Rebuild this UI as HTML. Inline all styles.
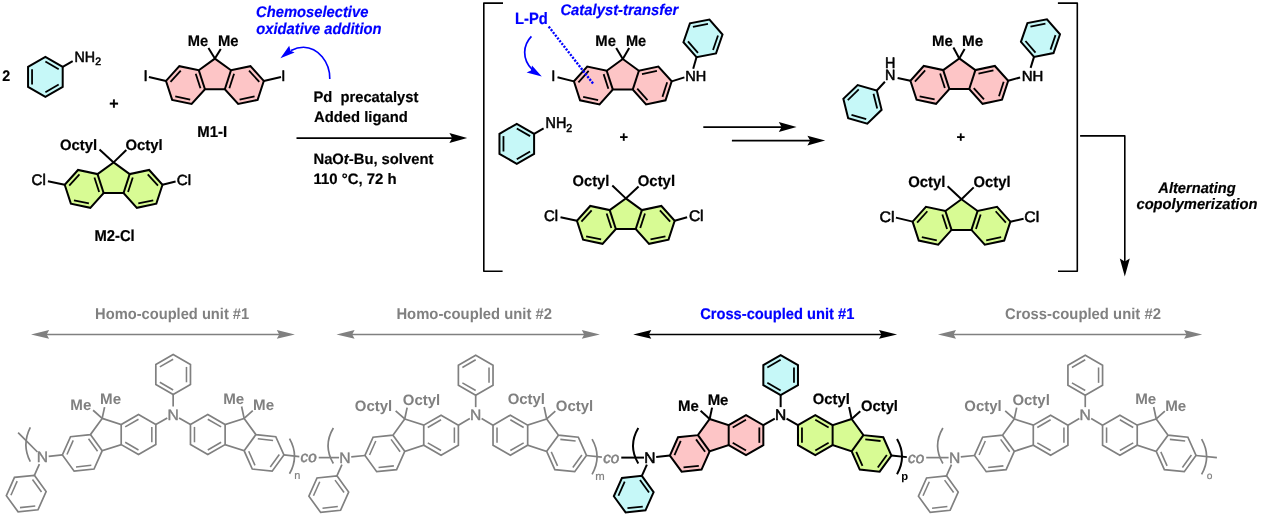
<!DOCTYPE html>
<html><head><meta charset="utf-8"><style>
html,body{margin:0;padding:0;background:#fff;width:1261px;height:517px;overflow:hidden;position:relative}
</style></head><body>
<div style="position:absolute;left:0;top:0;width:1261px;height:517px;will-change:transform"><svg width="1261" height="517" viewBox="0 0 1261 517" style="position:absolute;left:0;top:0">
<g font-family='"Liberation Sans", sans-serif' text-rendering="geometricPrecision">
<text transform="translate(2.35 80.6) scale(0.9485 1.0175)" font-size="15.0" font-weight="bold" font-style="normal" fill="#000" stroke="#000" stroke-width="0.2" stroke-linejoin="round">2</text>
<path d="M62.7 66.9 L62.7 86.9 L45.38 96.9 L28.06 86.9 L28.06 66.9 L45.38 56.9 Z" fill="#c6f8f8" stroke="none" stroke-width="2.0" stroke-linejoin="miter" stroke-miterlimit="4"/>
<path d="M62.7 66.9 L62.7 86.9 L45.38 96.9 L28.06 86.9 L28.06 66.9 L45.38 56.9 Z" fill="none" stroke="#000" stroke-width="2.0" stroke-linejoin="miter" stroke-miterlimit="4"/>
<line x1="45.38" y1="61.52" x2="58.7" y2="69.21" stroke="#000" stroke-width="1.8" stroke-linecap="butt" />
<line x1="58.7" y1="84.59" x2="45.38" y2="92.28" stroke="#000" stroke-width="1.8" stroke-linecap="butt" />
<line x1="32.06" y1="84.59" x2="32.06" y2="69.21" stroke="#000" stroke-width="1.8" stroke-linecap="butt" />
<line x1="62.7" y1="66.9" x2="72.7" y2="61.1" stroke="#000" stroke-width="2.0" stroke-linecap="butt" />
<text transform="translate(74.52 61.7) scale(0.9521 0.9884)" font-size="15.0" font-weight="normal" font-style="normal" fill="#000" stroke="#000" stroke-width="0.55" stroke-linejoin="round">NH<tspan font-size="11" dy="3.6">2</tspan></text>
<text transform="translate(109.33 108.91) scale(1.0713 1.0713)" font-size="15.0" font-weight="bold" font-style="normal" fill="#000" stroke="#000" stroke-width="0.2" stroke-linejoin="round">+</text>
<path d="M214.9 58.6 L231 70.3 L250.46 66.16 L263.78 80.95 L257.63 99.87 L238.17 104.01 L224.85 89.22 L204.95 89.22 L191.63 104.01 L172.17 99.87 L166.02 80.95 L179.34 66.16 L198.8 70.3 Z" fill="#fdc5c6" stroke="none" stroke-width="2.0" stroke-linejoin="miter" stroke-miterlimit="4"/>
<path d="M214.9 58.6 L231 70.3 L250.46 66.16 L263.78 80.95 L257.63 99.87 L238.17 104.01 L224.85 89.22 L204.95 89.22 L191.63 104.01 L172.17 99.87 L166.02 80.95 L179.34 66.16 L198.8 70.3 Z" fill="none" stroke="#000" stroke-width="2.0" stroke-linejoin="miter" stroke-miterlimit="4"/>
<line x1="198.8" y1="70.3" x2="204.95" y2="89.22" stroke="#000" stroke-width="2.0" stroke-linecap="butt" />
<line x1="231" y1="70.3" x2="224.85" y2="89.22" stroke="#000" stroke-width="2.0" stroke-linecap="butt" />
<line x1="195.73" y1="73.71" x2="200.45" y2="88.27" stroke="#000" stroke-width="1.8" stroke-linecap="butt" />
<line x1="190.21" y1="99.64" x2="175.24" y2="96.46" stroke="#000" stroke-width="1.8" stroke-linecap="butt" />
<line x1="170.52" y1="81.9" x2="180.76" y2="70.53" stroke="#000" stroke-width="1.8" stroke-linecap="butt" />
<line x1="234.07" y1="73.71" x2="229.35" y2="88.27" stroke="#000" stroke-width="1.8" stroke-linecap="butt" />
<line x1="239.59" y1="99.64" x2="254.56" y2="96.46" stroke="#000" stroke-width="1.8" stroke-linecap="butt" />
<line x1="259.28" y1="81.9" x2="249.04" y2="70.53" stroke="#000" stroke-width="1.8" stroke-linecap="butt" />
<line x1="166.02" y1="80.95" x2="148.9" y2="77.1" stroke="#000" stroke-width="2.0" stroke-linecap="butt" />
<line x1="263.78" y1="80.95" x2="281" y2="77.1" stroke="#000" stroke-width="2.0" stroke-linecap="butt" />
<text transform="translate(143.42 81.2) scale(1.0000 1.0271)" font-size="15.0" font-weight="normal" font-style="normal" fill="#000" stroke="#000" stroke-width="0.55" stroke-linejoin="round">I</text>
<text transform="translate(281.32 81.2) scale(1.0000 1.0078)" font-size="15.0" font-weight="normal" font-style="normal" fill="#000" stroke="#000" stroke-width="0.55" stroke-linejoin="round">I</text>
<line x1="214.9" y1="58.6" x2="208.4" y2="48" stroke="#000" stroke-width="2.0" stroke-linecap="butt" />
<line x1="214.9" y1="58.6" x2="220.8" y2="49" stroke="#000" stroke-width="2.0" stroke-linecap="butt" />
<text transform="translate(187.78 45.8) scale(0.9782 1.0271)" font-size="15.0" font-weight="bold" font-style="normal" fill="#000" stroke="#000" stroke-width="0.2" stroke-linejoin="round">Me</text>
<text transform="translate(217.97 45.8) scale(0.9886 1.0271)" font-size="15.0" font-weight="bold" font-style="normal" fill="#000" stroke="#000" stroke-width="0.2" stroke-linejoin="round">Me</text>
<text transform="translate(197.36 136.6) scale(0.9957 1.0514)" font-size="15.0" font-weight="bold" font-style="normal" fill="#000" stroke="#000" stroke-width="0.2" stroke-linejoin="round">M1-I</text>
<path d="M113.6 162.4 L129.7 174.1 L149.16 169.96 L162.48 184.75 L156.33 203.67 L136.87 207.81 L123.55 193.02 L103.65 193.02 L90.33 207.81 L70.87 203.67 L64.72 184.75 L78.04 169.96 L97.5 174.1 Z" fill="#d8fb94" stroke="none" stroke-width="2.0" stroke-linejoin="miter" stroke-miterlimit="4"/>
<path d="M113.6 162.4 L129.7 174.1 L149.16 169.96 L162.48 184.75 L156.33 203.67 L136.87 207.81 L123.55 193.02 L103.65 193.02 L90.33 207.81 L70.87 203.67 L64.72 184.75 L78.04 169.96 L97.5 174.1 Z" fill="none" stroke="#000" stroke-width="2.0" stroke-linejoin="miter" stroke-miterlimit="4"/>
<line x1="97.5" y1="174.1" x2="103.65" y2="193.02" stroke="#000" stroke-width="2.0" stroke-linecap="butt" />
<line x1="129.7" y1="174.1" x2="123.55" y2="193.02" stroke="#000" stroke-width="2.0" stroke-linecap="butt" />
<line x1="94.43" y1="177.51" x2="99.15" y2="192.07" stroke="#000" stroke-width="1.8" stroke-linecap="butt" />
<line x1="88.91" y1="203.44" x2="73.94" y2="200.26" stroke="#000" stroke-width="1.8" stroke-linecap="butt" />
<line x1="69.22" y1="185.7" x2="79.46" y2="174.33" stroke="#000" stroke-width="1.8" stroke-linecap="butt" />
<line x1="132.77" y1="177.51" x2="128.05" y2="192.07" stroke="#000" stroke-width="1.8" stroke-linecap="butt" />
<line x1="138.29" y1="203.44" x2="153.26" y2="200.26" stroke="#000" stroke-width="1.8" stroke-linecap="butt" />
<line x1="157.98" y1="185.7" x2="147.74" y2="174.33" stroke="#000" stroke-width="1.8" stroke-linecap="butt" />
<line x1="64.72" y1="184.75" x2="47.9" y2="181.3" stroke="#000" stroke-width="2.0" stroke-linecap="butt" />
<line x1="162.48" y1="184.75" x2="175.6" y2="181.5" stroke="#000" stroke-width="2.0" stroke-linecap="butt" />
<text transform="translate(31.59 185.45) scale(1.0063 1.0320)" font-size="15.0" font-weight="normal" font-style="normal" fill="#000" stroke="#000" stroke-width="0.55" stroke-linejoin="round">Cl</text>
<text transform="translate(176.79 185) scale(1.0141 0.9787)" font-size="15.0" font-weight="normal" font-style="normal" fill="#000" stroke="#000" stroke-width="0.55" stroke-linejoin="round">Cl</text>
<line x1="113.6" y1="162.4" x2="99.5" y2="149.4" stroke="#000" stroke-width="2.0" stroke-linecap="butt" />
<line x1="113.6" y1="162.4" x2="126.3" y2="150" stroke="#000" stroke-width="2.0" stroke-linecap="butt" />
<text transform="translate(60.03 149.9) scale(0.9891 0.9981)" font-size="15.0" font-weight="bold" font-style="normal" fill="#000" stroke="#000" stroke-width="0.2" stroke-linejoin="round">Octyl</text>
<text transform="translate(125.43 149.9) scale(0.9919 0.9981)" font-size="15.0" font-weight="bold" font-style="normal" fill="#000" stroke="#000" stroke-width="0.2" stroke-linejoin="round">Octyl</text>
<text transform="translate(94.47 240.6) scale(0.9851 1.0514)" font-size="15.0" font-weight="bold" font-style="normal" fill="#000" stroke="#000" stroke-width="0.2" stroke-linejoin="round">M2-Cl</text>
<text transform="translate(256.01 16.6) scale(0.9838 1.0271)" font-size="15.0" font-weight="bold" font-style="italic" fill="#0000ff" stroke="#0000ff" stroke-width="0.2" stroke-linejoin="round">Chemoselective</text>
<text transform="translate(256.33 34) scale(0.9813 1.0562)" font-size="15.0" font-weight="bold" font-style="italic" fill="#0000ff" stroke="#0000ff" stroke-width="0.2" stroke-linejoin="round">oxidative addition</text>
<path d="M329.8 79 C330 62 318 47.5 303.5 47.3 C299 47.3 295 48.5 291 50.5" fill="none" stroke="#0000ff" stroke-width="1.6"/>
<path d="M280.4 58.3 L289.2 45.8 L290.5 50.8 L294.6 52.4 Z" fill="#0000ff" stroke="none" stroke-width="2.0" stroke-linejoin="miter" stroke-miterlimit="4"/>
<text transform="translate(313.47 101.7) scale(0.9823 1.0078)" font-size="15.0" font-weight="bold" font-style="normal" fill="#000" stroke="#000" stroke-width="0.2" stroke-linejoin="round">Pd&#160; precatalyst</text>
<text transform="translate(313.98 122.4) scale(0.9871 1.0078)" font-size="15.0" font-weight="bold" font-style="normal" fill="#000" stroke="#000" stroke-width="0.2" stroke-linejoin="round">Added ligand</text>
<line x1="296.5" y1="138" x2="452.7" y2="138" stroke="#000" stroke-width="1.75" stroke-linecap="butt" />
<path d="M467.2 138 L449.4 142.9 L452.2 138 L449.4 133.1 Z" fill="#000" stroke="none" stroke-width="2.0" stroke-linejoin="miter" stroke-miterlimit="4"/>
<text transform="translate(313.47 163.6) scale(0.9853 0.9981)" font-size="15.0" font-weight="bold" font-style="normal" fill="#000" stroke="#000" stroke-width="0.2" stroke-linejoin="round">NaO<tspan font-style="italic">t</tspan>-Bu, solvent</text>
<text transform="translate(313.54 184.4) scale(0.9952 1.0078)" font-size="15.0" font-weight="bold" font-style="normal" fill="#000" stroke="#000" stroke-width="0.2" stroke-linejoin="round">110 °C, 72 h</text>
<path d="M503 3.1 L483.8 3.1 L483.8 271.3 L502.6 271.3" fill="none" stroke="#000" stroke-width="1.6" stroke-linejoin="round" stroke-miterlimit="4"/>
<path d="M1057.9 3.1 L1077.3 3.1 L1077.3 271.3 L1058 271.3" fill="none" stroke="#000" stroke-width="1.6" stroke-linejoin="round" stroke-miterlimit="4"/>
<text transform="translate(515.07 24.4) scale(0.9822 1.0950)" font-size="15.0" font-weight="bold" font-style="normal" fill="#0000ff" stroke="#0000ff" stroke-width="0.2" stroke-linejoin="round">L-Pd</text>
<text transform="translate(560.4 15) scale(0.9881 1.0271)" font-size="15.0" font-weight="bold" font-style="italic" fill="#0000ff" stroke="#0000ff" stroke-width="0.2" stroke-linejoin="round">Catalyst-transfer</text>
<path d="M622.8 59 L638.9 70.7 L658.36 66.56 L671.68 81.35 L665.53 100.27 L646.07 104.41 L632.75 89.62 L612.85 89.62 L599.53 104.41 L580.07 100.27 L573.92 81.35 L587.24 66.56 L606.7 70.7 Z" fill="#fdc5c6" stroke="none" stroke-width="2.0" stroke-linejoin="miter" stroke-miterlimit="4"/>
<path d="M622.8 59 L638.9 70.7 L658.36 66.56 L671.68 81.35 L665.53 100.27 L646.07 104.41 L632.75 89.62 L612.85 89.62 L599.53 104.41 L580.07 100.27 L573.92 81.35 L587.24 66.56 L606.7 70.7 Z" fill="none" stroke="#000" stroke-width="2.0" stroke-linejoin="miter" stroke-miterlimit="4"/>
<line x1="606.7" y1="70.7" x2="612.85" y2="89.62" stroke="#000" stroke-width="2.0" stroke-linecap="butt" />
<line x1="638.9" y1="70.7" x2="632.75" y2="89.62" stroke="#000" stroke-width="2.0" stroke-linecap="butt" />
<line x1="603.63" y1="74.11" x2="608.35" y2="88.67" stroke="#000" stroke-width="1.8" stroke-linecap="butt" />
<line x1="598.11" y1="100.04" x2="583.14" y2="96.86" stroke="#000" stroke-width="1.8" stroke-linecap="butt" />
<line x1="578.42" y1="82.3" x2="588.66" y2="70.93" stroke="#000" stroke-width="1.8" stroke-linecap="butt" />
<line x1="637.25" y1="88.67" x2="647.49" y2="100.04" stroke="#000" stroke-width="1.8" stroke-linecap="butt" />
<line x1="662.46" y1="96.86" x2="667.18" y2="82.3" stroke="#000" stroke-width="1.8" stroke-linecap="butt" />
<line x1="656.94" y1="70.93" x2="641.97" y2="74.11" stroke="#000" stroke-width="1.8" stroke-linecap="butt" />
<line x1="573.92" y1="81.35" x2="557.5" y2="77.3" stroke="#000" stroke-width="2.0" stroke-linecap="butt" />
<text transform="translate(551.27 80.85) scale(1.0000 1.0126)" font-size="15.0" font-weight="normal" font-style="normal" fill="#000" stroke="#000" stroke-width="0.55" stroke-linejoin="round">I</text>
<line x1="622.8" y1="59" x2="616.2" y2="48" stroke="#000" stroke-width="2.0" stroke-linecap="butt" />
<line x1="622.8" y1="59" x2="629.2" y2="48" stroke="#000" stroke-width="2.0" stroke-linecap="butt" />
<text transform="translate(595.37 45.7) scale(0.9886 1.0271)" font-size="15.0" font-weight="bold" font-style="normal" fill="#000" stroke="#000" stroke-width="0.2" stroke-linejoin="round">Me</text>
<text transform="translate(625.88 45.7) scale(0.9731 1.0271)" font-size="15.0" font-weight="bold" font-style="normal" fill="#000" stroke="#000" stroke-width="0.2" stroke-linejoin="round">Me</text>
<line x1="671.68" y1="81.35" x2="684.4" y2="77.4" stroke="#000" stroke-width="2.0" stroke-linecap="butt" />
<text transform="translate(685.25 80.9) scale(0.9689 0.9787)" font-size="15.0" font-weight="normal" font-style="normal" fill="#000" stroke="#000" stroke-width="0.55" stroke-linejoin="round">NH</text>
<line x1="693.2" y1="68.7" x2="696.5" y2="57.2" stroke="#000" stroke-width="2.0" stroke-linecap="butt" />
<path d="M696.5 57.2 L683.44 42.18 L689.92 23.37 L709.46 19.57 L722.51 34.59 L716.03 53.4 Z" fill="#c6f8f8" stroke="none" stroke-width="2.0" stroke-linejoin="miter" stroke-miterlimit="4"/>
<path d="M696.5 57.2 L683.44 42.18 L689.92 23.37 L709.46 19.57 L722.51 34.59 L716.03 53.4 Z" fill="none" stroke="#000" stroke-width="2.0" stroke-linejoin="miter" stroke-miterlimit="4"/>
<line x1="698" y1="52.85" x2="687.96" y2="41.3" stroke="#000" stroke-width="1.8" stroke-linecap="butt" />
<line x1="692.94" y1="26.83" x2="707.96" y2="23.91" stroke="#000" stroke-width="1.8" stroke-linecap="butt" />
<line x1="718" y1="35.46" x2="713.02" y2="49.93" stroke="#000" stroke-width="1.8" stroke-linecap="butt" />
<line x1="548.7" y1="26.6" x2="593.4" y2="84" stroke="#0000ff" stroke-width="2.4" stroke-dasharray="2.1 1.4"/>
<path d="M531.4 36.3 C523 45 521.5 59 532.5 70" fill="none" stroke="#0000ff" stroke-width="1.7"/>
<path d="M541.8 76.6 L526.6 72.6 L531 70.6 L532 65.6 Z" fill="#0000ff" stroke="none" stroke-width="2.0" stroke-linejoin="miter" stroke-miterlimit="4"/>
<path d="M534.1 133.8 L534.1 153.8 L516.78 163.8 L499.46 153.8 L499.46 133.8 L516.78 123.8 Z" fill="#c6f8f8" stroke="none" stroke-width="2.0" stroke-linejoin="miter" stroke-miterlimit="4"/>
<path d="M534.1 133.8 L534.1 153.8 L516.78 163.8 L499.46 153.8 L499.46 133.8 L516.78 123.8 Z" fill="none" stroke="#000" stroke-width="2.0" stroke-linejoin="miter" stroke-miterlimit="4"/>
<line x1="516.78" y1="128.42" x2="530.1" y2="136.11" stroke="#000" stroke-width="1.8" stroke-linecap="butt" />
<line x1="530.1" y1="151.49" x2="516.78" y2="159.18" stroke="#000" stroke-width="1.8" stroke-linecap="butt" />
<line x1="503.46" y1="151.49" x2="503.46" y2="136.11" stroke="#000" stroke-width="1.8" stroke-linecap="butt" />
<line x1="534.1" y1="133.8" x2="543.6" y2="128.3" stroke="#000" stroke-width="2.0" stroke-linecap="butt" />
<text transform="translate(545.51 128.3) scale(0.9596 1.0465)" font-size="15.0" font-weight="normal" font-style="normal" fill="#000" stroke="#000" stroke-width="0.55" stroke-linejoin="round">NH<tspan font-size="11" dy="3.6">2</tspan></text>
<text transform="translate(619.39 142.28) scale(0.9775 0.9775)" font-size="15.0" font-weight="bold" font-style="normal" fill="#000" stroke="#000" stroke-width="0.2" stroke-linejoin="round">+</text>
<path d="M625.8 198.4 L641.9 210.1 L661.36 205.96 L674.68 220.75 L668.53 239.67 L649.07 243.81 L635.75 229.02 L615.85 229.02 L602.53 243.81 L583.07 239.67 L576.92 220.75 L590.24 205.96 L609.7 210.1 Z" fill="#d8fb94" stroke="none" stroke-width="2.0" stroke-linejoin="miter" stroke-miterlimit="4"/>
<path d="M625.8 198.4 L641.9 210.1 L661.36 205.96 L674.68 220.75 L668.53 239.67 L649.07 243.81 L635.75 229.02 L615.85 229.02 L602.53 243.81 L583.07 239.67 L576.92 220.75 L590.24 205.96 L609.7 210.1 Z" fill="none" stroke="#000" stroke-width="2.0" stroke-linejoin="miter" stroke-miterlimit="4"/>
<line x1="609.7" y1="210.1" x2="615.85" y2="229.02" stroke="#000" stroke-width="2.0" stroke-linecap="butt" />
<line x1="641.9" y1="210.1" x2="635.75" y2="229.02" stroke="#000" stroke-width="2.0" stroke-linecap="butt" />
<line x1="606.63" y1="213.51" x2="611.35" y2="228.07" stroke="#000" stroke-width="1.8" stroke-linecap="butt" />
<line x1="601.11" y1="239.44" x2="586.14" y2="236.26" stroke="#000" stroke-width="1.8" stroke-linecap="butt" />
<line x1="581.42" y1="221.7" x2="591.66" y2="210.33" stroke="#000" stroke-width="1.8" stroke-linecap="butt" />
<line x1="644.97" y1="213.51" x2="640.25" y2="228.07" stroke="#000" stroke-width="1.8" stroke-linecap="butt" />
<line x1="650.49" y1="239.44" x2="665.46" y2="236.26" stroke="#000" stroke-width="1.8" stroke-linecap="butt" />
<line x1="670.18" y1="221.7" x2="659.94" y2="210.33" stroke="#000" stroke-width="1.8" stroke-linecap="butt" />
<line x1="576.92" y1="220.75" x2="560.5" y2="217.3" stroke="#000" stroke-width="2.0" stroke-linecap="butt" />
<line x1="674.68" y1="220.75" x2="687.1" y2="217.3" stroke="#000" stroke-width="2.0" stroke-linecap="butt" />
<text transform="translate(544 220.7) scale(0.9908 1.0271)" font-size="15.0" font-weight="normal" font-style="normal" fill="#000" stroke="#000" stroke-width="0.55" stroke-linejoin="round">Cl</text>
<text transform="translate(688.88 220.7) scale(1.0373 1.0271)" font-size="15.0" font-weight="normal" font-style="normal" fill="#000" stroke="#000" stroke-width="0.55" stroke-linejoin="round">Cl</text>
<line x1="625.8" y1="198.4" x2="612.3" y2="185.5" stroke="#000" stroke-width="2.0" stroke-linecap="butt" />
<line x1="625.8" y1="198.4" x2="638.6" y2="186.4" stroke="#000" stroke-width="2.0" stroke-linecap="butt" />
<text transform="translate(572.53 185.7) scale(0.9836 1.0175)" font-size="15.0" font-weight="bold" font-style="normal" fill="#000" stroke="#000" stroke-width="0.2" stroke-linejoin="round">Octyl</text>
<text transform="translate(637.73 185.7) scale(0.9947 1.0175)" font-size="15.0" font-weight="bold" font-style="normal" fill="#000" stroke="#000" stroke-width="0.2" stroke-linejoin="round">Octyl</text>
<line x1="703.3" y1="127" x2="782.1" y2="127" stroke="#000" stroke-width="1.75" stroke-linecap="butt" />
<path d="M796.6 127 L778.8 131.9 L781.6 127 L778.8 122.1 Z" fill="#000" stroke="none" stroke-width="2.0" stroke-linejoin="miter" stroke-miterlimit="4"/>
<line x1="731.9" y1="140.6" x2="810.7" y2="140.6" stroke="#000" stroke-width="1.75" stroke-linecap="butt" />
<path d="M825.2 140.6 L807.4 145.5 L810.2 140.6 L807.4 135.7 Z" fill="#000" stroke="none" stroke-width="2.0" stroke-linejoin="miter" stroke-miterlimit="4"/>
<path d="M959.3 58.4 L975.4 70.1 L994.86 65.96 L1008.18 80.75 L1002.03 99.67 L982.57 103.81 L969.25 89.02 L949.35 89.02 L936.03 103.81 L916.57 99.67 L910.42 80.75 L923.74 65.96 L943.2 70.1 Z" fill="#fdc5c6" stroke="none" stroke-width="2.0" stroke-linejoin="miter" stroke-miterlimit="4"/>
<path d="M959.3 58.4 L975.4 70.1 L994.86 65.96 L1008.18 80.75 L1002.03 99.67 L982.57 103.81 L969.25 89.02 L949.35 89.02 L936.03 103.81 L916.57 99.67 L910.42 80.75 L923.74 65.96 L943.2 70.1 Z" fill="none" stroke="#000" stroke-width="2.0" stroke-linejoin="miter" stroke-miterlimit="4"/>
<line x1="943.2" y1="70.1" x2="949.35" y2="89.02" stroke="#000" stroke-width="2.0" stroke-linecap="butt" />
<line x1="975.4" y1="70.1" x2="969.25" y2="89.02" stroke="#000" stroke-width="2.0" stroke-linecap="butt" />
<line x1="940.13" y1="73.51" x2="944.85" y2="88.07" stroke="#000" stroke-width="1.8" stroke-linecap="butt" />
<line x1="934.61" y1="99.44" x2="919.64" y2="96.26" stroke="#000" stroke-width="1.8" stroke-linecap="butt" />
<line x1="914.92" y1="81.7" x2="925.16" y2="70.33" stroke="#000" stroke-width="1.8" stroke-linecap="butt" />
<line x1="973.75" y1="88.07" x2="983.99" y2="99.44" stroke="#000" stroke-width="1.8" stroke-linecap="butt" />
<line x1="998.96" y1="96.26" x2="1003.68" y2="81.7" stroke="#000" stroke-width="1.8" stroke-linecap="butt" />
<line x1="993.44" y1="70.33" x2="978.47" y2="73.51" stroke="#000" stroke-width="1.8" stroke-linecap="butt" />
<line x1="959.3" y1="58.4" x2="953.4" y2="47.6" stroke="#000" stroke-width="2.0" stroke-linecap="butt" />
<line x1="959.3" y1="58.4" x2="964.6" y2="49.1" stroke="#000" stroke-width="2.0" stroke-linecap="butt" />
<text transform="translate(932.06 45.8) scale(0.9990 1.0175)" font-size="15.0" font-weight="bold" font-style="normal" fill="#000" stroke="#000" stroke-width="0.2" stroke-linejoin="round">Me</text>
<text transform="translate(962.04 45.8) scale(1.0197 1.0175)" font-size="15.0" font-weight="bold" font-style="normal" fill="#000" stroke="#000" stroke-width="0.2" stroke-linejoin="round">Me</text>
<line x1="910.42" y1="80.75" x2="897.6" y2="77.9" stroke="#000" stroke-width="2.0" stroke-linecap="butt" />
<text transform="translate(884.91 80.4) scale(0.9580 0.9884)" font-size="15.0" font-weight="normal" font-style="normal" fill="#000" stroke="#000" stroke-width="0.55" stroke-linejoin="round">N</text>
<text transform="translate(884.91 68.3) scale(0.9580 1.0078)" font-size="15.0" font-weight="normal" font-style="normal" fill="#000" stroke="#000" stroke-width="0.55" stroke-linejoin="round">H</text>
<line x1="884.9" y1="81.7" x2="876.8" y2="90.5" stroke="#000" stroke-width="2.0" stroke-linecap="butt" />
<path d="M876.8 90.5 L881.61 109.81 L867.3 123.63 L848.17 118.15 L843.36 98.84 L857.67 85.01 Z" fill="#c6f8f8" stroke="none" stroke-width="2.0" stroke-linejoin="miter" stroke-miterlimit="4"/>
<path d="M876.8 90.5 L881.61 109.81 L867.3 123.63 L848.17 118.15 L843.36 98.84 L857.67 85.01 Z" fill="none" stroke="#000" stroke-width="2.0" stroke-linejoin="miter" stroke-miterlimit="4"/>
<line x1="873.49" y1="93.69" x2="877.2" y2="108.54" stroke="#000" stroke-width="1.8" stroke-linecap="butt" />
<line x1="866.19" y1="119.17" x2="851.48" y2="114.95" stroke="#000" stroke-width="1.8" stroke-linecap="butt" />
<line x1="847.77" y1="100.11" x2="858.78" y2="89.47" stroke="#000" stroke-width="1.8" stroke-linecap="butt" />
<line x1="1008.18" y1="80.75" x2="1020.1" y2="77.5" stroke="#000" stroke-width="2.0" stroke-linecap="butt" />
<text transform="translate(1021.67 80.6) scale(0.9967 0.9787)" font-size="15.0" font-weight="normal" font-style="normal" fill="#000" stroke="#000" stroke-width="0.55" stroke-linejoin="round">NH</text>
<line x1="1030.6" y1="67.9" x2="1034" y2="56.9" stroke="#000" stroke-width="2.0" stroke-linecap="butt" />
<path d="M1034 56.9 L1020.94 41.88 L1027.42 23.07 L1046.96 19.27 L1060.01 34.29 L1053.53 53.1 Z" fill="#c6f8f8" stroke="none" stroke-width="2.0" stroke-linejoin="miter" stroke-miterlimit="4"/>
<path d="M1034 56.9 L1020.94 41.88 L1027.42 23.07 L1046.96 19.27 L1060.01 34.29 L1053.53 53.1 Z" fill="none" stroke="#000" stroke-width="2.0" stroke-linejoin="miter" stroke-miterlimit="4"/>
<line x1="1035.5" y1="52.55" x2="1025.46" y2="41" stroke="#000" stroke-width="1.8" stroke-linecap="butt" />
<line x1="1030.44" y1="26.53" x2="1045.46" y2="23.61" stroke="#000" stroke-width="1.8" stroke-linecap="butt" />
<line x1="1055.5" y1="35.16" x2="1050.52" y2="49.63" stroke="#000" stroke-width="1.8" stroke-linecap="butt" />
<text transform="translate(956.39 142.48) scale(0.9775 0.9775)" font-size="15.0" font-weight="bold" font-style="normal" fill="#000" stroke="#000" stroke-width="0.2" stroke-linejoin="round">+</text>
<path d="M961.5 199.3 L977.6 211 L997.06 206.86 L1010.38 221.65 L1004.23 240.57 L984.77 244.71 L971.45 229.92 L951.55 229.92 L938.23 244.71 L918.77 240.57 L912.62 221.65 L925.94 206.86 L945.4 211 Z" fill="#d8fb94" stroke="none" stroke-width="2.0" stroke-linejoin="miter" stroke-miterlimit="4"/>
<path d="M961.5 199.3 L977.6 211 L997.06 206.86 L1010.38 221.65 L1004.23 240.57 L984.77 244.71 L971.45 229.92 L951.55 229.92 L938.23 244.71 L918.77 240.57 L912.62 221.65 L925.94 206.86 L945.4 211 Z" fill="none" stroke="#000" stroke-width="2.0" stroke-linejoin="miter" stroke-miterlimit="4"/>
<line x1="945.4" y1="211" x2="951.55" y2="229.92" stroke="#000" stroke-width="2.0" stroke-linecap="butt" />
<line x1="977.6" y1="211" x2="971.45" y2="229.92" stroke="#000" stroke-width="2.0" stroke-linecap="butt" />
<line x1="942.33" y1="214.41" x2="947.05" y2="228.97" stroke="#000" stroke-width="1.8" stroke-linecap="butt" />
<line x1="936.81" y1="240.34" x2="921.84" y2="237.16" stroke="#000" stroke-width="1.8" stroke-linecap="butt" />
<line x1="917.12" y1="222.6" x2="927.36" y2="211.23" stroke="#000" stroke-width="1.8" stroke-linecap="butt" />
<line x1="980.67" y1="214.41" x2="975.95" y2="228.97" stroke="#000" stroke-width="1.8" stroke-linecap="butt" />
<line x1="986.19" y1="240.34" x2="1001.16" y2="237.16" stroke="#000" stroke-width="1.8" stroke-linecap="butt" />
<line x1="1005.88" y1="222.6" x2="995.64" y2="211.23" stroke="#000" stroke-width="1.8" stroke-linecap="butt" />
<line x1="912.62" y1="221.65" x2="895.9" y2="217.6" stroke="#000" stroke-width="2.0" stroke-linecap="butt" />
<line x1="1010.38" y1="221.65" x2="1023.6" y2="218.8" stroke="#000" stroke-width="2.0" stroke-linecap="butt" />
<text transform="translate(879.47 222) scale(1.0605 1.0078)" font-size="15.0" font-weight="normal" font-style="normal" fill="#000" stroke="#000" stroke-width="0.55" stroke-linejoin="round">Cl</text>
<text transform="translate(1024.37 222) scale(1.0528 1.0078)" font-size="15.0" font-weight="normal" font-style="normal" fill="#000" stroke="#000" stroke-width="0.55" stroke-linejoin="round">Cl</text>
<line x1="961.5" y1="199.3" x2="947.6" y2="186.3" stroke="#000" stroke-width="2.0" stroke-linecap="butt" />
<line x1="961.5" y1="199.3" x2="973.7" y2="187.4" stroke="#000" stroke-width="2.0" stroke-linecap="butt" />
<text transform="translate(908.13 187) scale(0.9947 1.0271)" font-size="15.0" font-weight="bold" font-style="normal" fill="#000" stroke="#000" stroke-width="0.2" stroke-linejoin="round">Octyl</text>
<text transform="translate(973.53 187) scale(0.9864 1.0271)" font-size="15.0" font-weight="bold" font-style="normal" fill="#000" stroke="#000" stroke-width="0.2" stroke-linejoin="round">Octyl</text>
<path d="M1080.1 135.9 L1124.8 135.9 L1124.8 262" fill="none" stroke="#000" stroke-width="1.6" stroke-linejoin="round" stroke-miterlimit="4"/>
<path d="M1124.8 276.6 L1119.8 258.6 L1124.8 261.4 L1129.8 258.6 Z" fill="#000" stroke="none" stroke-width="2.0" stroke-linejoin="miter" stroke-miterlimit="4"/>
<text transform="translate(1158.34 192.7) scale(0.9763 1.0078)" font-size="15.0" font-weight="bold" font-style="italic" fill="#000" stroke="#000" stroke-width="0.2" stroke-linejoin="round">Alternating</text>
<text transform="translate(1136.45 209.3) scale(0.9806 1.0078)" font-size="15.0" font-weight="bold" font-style="italic" fill="#000" stroke="#000" stroke-width="0.2" stroke-linejoin="round">copolymerization</text>
<line x1="46" y1="334.4" x2="279.9" y2="334.4" stroke="#808080" stroke-width="1.5" stroke-linecap="butt" />
<path d="M31 334.4 L49.1 330 L46.7 334.4 L49.1 338.8 Z" fill="#808080" stroke="none" stroke-width="2.0" stroke-linejoin="miter" stroke-miterlimit="4"/>
<path d="M294.9 334.4 L276.8 338.8 L279.2 334.4 L276.8 330 Z" fill="#808080" stroke="none" stroke-width="2.0" stroke-linejoin="miter" stroke-miterlimit="4"/>
<line x1="351.5" y1="334.4" x2="584.9" y2="334.4" stroke="#808080" stroke-width="1.5" stroke-linecap="butt" />
<path d="M336.5 334.4 L354.6 330 L352.2 334.4 L354.6 338.8 Z" fill="#808080" stroke="none" stroke-width="2.0" stroke-linejoin="miter" stroke-miterlimit="4"/>
<path d="M599.9 334.4 L581.8 338.8 L584.2 334.4 L581.8 330 Z" fill="#808080" stroke="none" stroke-width="2.0" stroke-linejoin="miter" stroke-miterlimit="4"/>
<line x1="648.2" y1="334.4" x2="882.1" y2="334.4" stroke="#000" stroke-width="1.5" stroke-linecap="butt" />
<path d="M633.2 334.4 L651.3 330 L648.9 334.4 L651.3 338.8 Z" fill="#000" stroke="none" stroke-width="2.0" stroke-linejoin="miter" stroke-miterlimit="4"/>
<path d="M897.1 334.4 L879 338.8 L881.4 334.4 L879 330 Z" fill="#000" stroke="none" stroke-width="2.0" stroke-linejoin="miter" stroke-miterlimit="4"/>
<line x1="952.9" y1="334.4" x2="1187.2" y2="334.4" stroke="#808080" stroke-width="1.5" stroke-linecap="butt" />
<path d="M937.9 334.4 L956 330 L953.6 334.4 L956 338.8 Z" fill="#808080" stroke="none" stroke-width="2.0" stroke-linejoin="miter" stroke-miterlimit="4"/>
<path d="M1202.2 334.4 L1184.1 338.8 L1186.5 334.4 L1184.1 330 Z" fill="#808080" stroke="none" stroke-width="2.0" stroke-linejoin="miter" stroke-miterlimit="4"/>
<text transform="translate(95.12 318.5) scale(0.9782 1.0368)" font-size="15.0" font-weight="bold" font-style="normal" fill="#808080">Homo-coupled unit #1</text>
<text transform="translate(396.41 318.5) scale(0.9879 1.0368)" font-size="15.0" font-weight="bold" font-style="normal" fill="#808080">Homo-coupled unit #2</text>
<text transform="translate(700.13 318.5) scale(0.9791 1.0368)" font-size="15.0" font-weight="bold" font-style="normal" fill="#0000ff" stroke="#0000ff" stroke-width="0.2" stroke-linejoin="round">Cross-coupled unit #1</text>
<text transform="translate(1004.95 318.5) scale(0.9902 1.0368)" font-size="15.0" font-weight="bold" font-style="normal" fill="#808080">Cross-coupled unit #2</text>
<line x1="48.68" y1="456.4" x2="62.39" y2="454.96" stroke="#808080" stroke-width="1.7" stroke-linecap="butt" />
<line x1="39.38" y1="464.07" x2="34.37" y2="475.32" stroke="#808080" stroke-width="1.7" stroke-linecap="butt" />
<path d="M34.37 475.32 L46.12 491.5 L37.99 509.77 L18.1 511.86 L6.34 495.68 L14.47 477.41 Z" fill="none" stroke="#808080" stroke-width="1.7" stroke-linejoin="miter" stroke-miterlimit="4"/>
<line x1="32.49" y1="479.54" x2="41.53" y2="491.98" stroke="#808080" stroke-width="1.55" stroke-linecap="butt" />
<line x1="35.27" y1="506.04" x2="19.97" y2="507.64" stroke="#808080" stroke-width="1.55" stroke-linecap="butt" />
<line x1="10.93" y1="495.2" x2="17.19" y2="481.15" stroke="#808080" stroke-width="1.55" stroke-linecap="butt" />
<path d="M102.17 418.42 L121.19 424.6 L138.51 414.6 L155.83 424.6 L155.83 444.6 L138.51 454.6 L121.19 444.6 L102.17 450.78 L94.04 469.05 L74.15 471.14 L62.39 454.96 L70.53 436.69 L90.42 434.6 Z" fill="none" stroke="#808080" stroke-width="1.7" stroke-linejoin="miter" stroke-miterlimit="4"/>
<line x1="90.42" y1="434.6" x2="102.17" y2="450.78" stroke="#808080" stroke-width="1.7" stroke-linecap="butt" />
<line x1="121.19" y1="424.6" x2="121.19" y2="444.6" stroke="#808080" stroke-width="1.7" stroke-linecap="butt" />
<line x1="88.54" y1="438.82" x2="97.58" y2="451.26" stroke="#808080" stroke-width="1.55" stroke-linecap="butt" />
<line x1="91.32" y1="465.31" x2="76.02" y2="466.92" stroke="#808080" stroke-width="1.55" stroke-linecap="butt" />
<line x1="66.98" y1="454.48" x2="73.24" y2="440.43" stroke="#808080" stroke-width="1.55" stroke-linecap="butt" />
<line x1="125.19" y1="442.29" x2="138.51" y2="449.98" stroke="#808080" stroke-width="1.55" stroke-linecap="butt" />
<line x1="151.83" y1="442.29" x2="151.83" y2="426.91" stroke="#808080" stroke-width="1.55" stroke-linecap="butt" />
<line x1="138.51" y1="419.22" x2="125.19" y2="426.91" stroke="#808080" stroke-width="1.55" stroke-linecap="butt" />
<line x1="155.83" y1="424.6" x2="167.27" y2="418" stroke="#808080" stroke-width="1.7" stroke-linecap="butt" />
<line x1="173.15" y1="406.6" x2="173.15" y2="394.6" stroke="#808080" stroke-width="1.7" stroke-linecap="butt" />
<path d="M173.15 394.6 L155.83 384.6 L155.83 364.6 L173.15 354.6 L190.47 364.6 L190.47 384.6 Z" fill="none" stroke="#808080" stroke-width="1.7" stroke-linejoin="miter" stroke-miterlimit="4"/>
<line x1="173.15" y1="389.98" x2="159.83" y2="382.29" stroke="#808080" stroke-width="1.55" stroke-linecap="butt" />
<line x1="159.83" y1="366.91" x2="173.15" y2="359.22" stroke="#808080" stroke-width="1.55" stroke-linecap="butt" />
<line x1="186.47" y1="366.91" x2="186.47" y2="382.29" stroke="#808080" stroke-width="1.55" stroke-linecap="butt" />
<line x1="179.04" y1="418" x2="190.47" y2="424.6" stroke="#808080" stroke-width="1.7" stroke-linecap="butt" />
<path d="M244.14 418.42 L255.89 434.6 L275.78 436.69 L283.92 454.96 L272.16 471.14 L252.27 469.05 L244.14 450.78 L225.12 444.6 L207.79 454.6 L190.47 444.6 L190.47 424.6 L207.79 414.6 L225.12 424.6 Z" fill="none" stroke="#808080" stroke-width="1.7" stroke-linejoin="miter" stroke-miterlimit="4"/>
<line x1="225.12" y1="424.6" x2="225.12" y2="444.6" stroke="#808080" stroke-width="1.7" stroke-linecap="butt" />
<line x1="255.89" y1="434.6" x2="244.14" y2="450.78" stroke="#808080" stroke-width="1.7" stroke-linecap="butt" />
<line x1="221.12" y1="442.29" x2="207.79" y2="449.98" stroke="#808080" stroke-width="1.55" stroke-linecap="butt" />
<line x1="194.47" y1="442.29" x2="194.47" y2="426.91" stroke="#808080" stroke-width="1.55" stroke-linecap="butt" />
<line x1="207.79" y1="419.22" x2="221.12" y2="426.91" stroke="#808080" stroke-width="1.55" stroke-linecap="butt" />
<line x1="248.73" y1="451.26" x2="254.99" y2="465.31" stroke="#808080" stroke-width="1.55" stroke-linecap="butt" />
<line x1="270.28" y1="466.92" x2="279.32" y2="454.48" stroke="#808080" stroke-width="1.55" stroke-linecap="butt" />
<line x1="273.07" y1="440.43" x2="257.77" y2="438.82" stroke="#808080" stroke-width="1.55" stroke-linecap="butt" />
<text transform="translate(36.78 462.15) scale(1.0455 1.0078)" font-size="15.0" font-weight="normal" font-style="normal" fill="#808080" stroke="#808080" stroke-width="0.4" stroke-linejoin="round">N</text>
<text transform="translate(167.44 419.7) scale(1.0455 1.0078)" font-size="15.0" font-weight="normal" font-style="normal" fill="#808080" stroke="#808080" stroke-width="0.4" stroke-linejoin="round">N</text>
<line x1="102.17" y1="418.42" x2="93.1" y2="410.25" stroke="#808080" stroke-width="1.7" stroke-linecap="butt" />
<line x1="102.17" y1="418.42" x2="104.58" y2="407.07" stroke="#808080" stroke-width="1.7" stroke-linecap="butt" />
<text transform="translate(70.36 410.32) scale(1.0090 1.0078)" font-size="15.0" font-weight="bold" font-style="normal" fill="#808080">Me</text>
<text transform="translate(100.06 404.22) scale(1.0090 1.0078)" font-size="15.0" font-weight="bold" font-style="normal" fill="#808080">Me</text>
<line x1="244.14" y1="418.42" x2="241.6" y2="406.48" stroke="#808080" stroke-width="1.7" stroke-linecap="butt" />
<line x1="244.14" y1="418.42" x2="252.76" y2="410.66" stroke="#808080" stroke-width="1.7" stroke-linecap="butt" />
<text transform="translate(223.13 403.52) scale(1.0090 1.0078)" font-size="15.0" font-weight="bold" font-style="normal" fill="#808080">Me</text>
<text transform="translate(253.03 410.02) scale(1.0090 1.0078)" font-size="15.0" font-weight="bold" font-style="normal" fill="#808080">Me</text>
<line x1="283.92" y1="454.96" x2="299.33" y2="456.58" stroke="#808080" stroke-width="1.7" stroke-linecap="butt" />
<path d="M289.52 438.56 Q299.52 456.16 289.52 473.76" fill="none" stroke="#808080" stroke-width="1.7"/>
<text transform="translate(294.29 479.18) scale(1.0000 1.0000)" font-size="11" font-weight="normal" font-style="normal" fill="#808080" stroke="#808080" stroke-width="0.2" stroke-linejoin="round">n</text>
<text transform="translate(300.62 462.02) scale(1.0171 1.0171)" font-size="15.0" font-weight="normal" font-style="italic" fill="#808080" stroke="#808080" stroke-width="0.5" stroke-linejoin="round">co</text>
<line x1="37.46" y1="452" x2="18.1" y2="432.6" stroke="#808080" stroke-width="1.7" stroke-linecap="butt" />
<path d="M30.3 427.3 Q21.5 444.8 30.3 461.6" fill="none" stroke="#808080" stroke-width="1.7"/>
<line x1="351.23" y1="456.95" x2="364.94" y2="455.51" stroke="#808080" stroke-width="1.7" stroke-linecap="butt" />
<line x1="341.93" y1="464.62" x2="336.92" y2="475.87" stroke="#808080" stroke-width="1.7" stroke-linecap="butt" />
<path d="M336.92 475.87 L348.67 492.05 L340.54 510.32 L320.65 512.41 L308.89 496.23 L317.02 477.96 Z" fill="none" stroke="#808080" stroke-width="1.7" stroke-linejoin="miter" stroke-miterlimit="4"/>
<line x1="335.04" y1="480.09" x2="344.08" y2="492.53" stroke="#808080" stroke-width="1.55" stroke-linecap="butt" />
<line x1="337.82" y1="506.59" x2="322.52" y2="508.19" stroke="#808080" stroke-width="1.55" stroke-linecap="butt" />
<line x1="313.48" y1="495.75" x2="319.74" y2="481.7" stroke="#808080" stroke-width="1.55" stroke-linecap="butt" />
<path d="M404.72 418.97 L423.74 425.15 L441.06 415.15 L458.38 425.15 L458.38 445.15 L441.06 455.15 L423.74 445.15 L404.72 451.33 L396.59 469.6 L376.7 471.69 L364.94 455.51 L373.08 437.24 L392.97 435.15 Z" fill="none" stroke="#808080" stroke-width="1.7" stroke-linejoin="miter" stroke-miterlimit="4"/>
<line x1="392.97" y1="435.15" x2="404.72" y2="451.33" stroke="#808080" stroke-width="1.7" stroke-linecap="butt" />
<line x1="423.74" y1="425.15" x2="423.74" y2="445.15" stroke="#808080" stroke-width="1.7" stroke-linecap="butt" />
<line x1="391.09" y1="439.37" x2="400.13" y2="451.81" stroke="#808080" stroke-width="1.55" stroke-linecap="butt" />
<line x1="393.87" y1="465.86" x2="378.57" y2="467.47" stroke="#808080" stroke-width="1.55" stroke-linecap="butt" />
<line x1="369.53" y1="455.03" x2="375.79" y2="440.98" stroke="#808080" stroke-width="1.55" stroke-linecap="butt" />
<line x1="427.74" y1="442.84" x2="441.06" y2="450.53" stroke="#808080" stroke-width="1.55" stroke-linecap="butt" />
<line x1="454.38" y1="442.84" x2="454.38" y2="427.46" stroke="#808080" stroke-width="1.55" stroke-linecap="butt" />
<line x1="441.06" y1="419.77" x2="427.74" y2="427.46" stroke="#808080" stroke-width="1.55" stroke-linecap="butt" />
<line x1="458.38" y1="425.15" x2="469.82" y2="418.55" stroke="#808080" stroke-width="1.7" stroke-linecap="butt" />
<line x1="475.7" y1="407.15" x2="475.7" y2="395.15" stroke="#808080" stroke-width="1.7" stroke-linecap="butt" />
<path d="M475.7 395.15 L458.38 385.15 L458.38 365.15 L475.7 355.15 L493.02 365.15 L493.02 385.15 Z" fill="none" stroke="#808080" stroke-width="1.7" stroke-linejoin="miter" stroke-miterlimit="4"/>
<line x1="475.7" y1="390.53" x2="462.38" y2="382.84" stroke="#808080" stroke-width="1.55" stroke-linecap="butt" />
<line x1="462.38" y1="367.46" x2="475.7" y2="359.77" stroke="#808080" stroke-width="1.55" stroke-linecap="butt" />
<line x1="489.02" y1="367.46" x2="489.02" y2="382.84" stroke="#808080" stroke-width="1.55" stroke-linecap="butt" />
<line x1="481.59" y1="418.55" x2="493.02" y2="425.15" stroke="#808080" stroke-width="1.7" stroke-linecap="butt" />
<path d="M546.69 418.97 L558.44 435.15 L578.33 437.24 L586.47 455.51 L574.71 471.69 L554.82 469.6 L546.69 451.33 L527.67 445.15 L510.34 455.15 L493.02 445.15 L493.02 425.15 L510.34 415.15 L527.67 425.15 Z" fill="none" stroke="#808080" stroke-width="1.7" stroke-linejoin="miter" stroke-miterlimit="4"/>
<line x1="527.67" y1="425.15" x2="527.67" y2="445.15" stroke="#808080" stroke-width="1.7" stroke-linecap="butt" />
<line x1="558.44" y1="435.15" x2="546.69" y2="451.33" stroke="#808080" stroke-width="1.7" stroke-linecap="butt" />
<line x1="523.67" y1="442.84" x2="510.34" y2="450.53" stroke="#808080" stroke-width="1.55" stroke-linecap="butt" />
<line x1="497.02" y1="442.84" x2="497.02" y2="427.46" stroke="#808080" stroke-width="1.55" stroke-linecap="butt" />
<line x1="510.34" y1="419.77" x2="523.67" y2="427.46" stroke="#808080" stroke-width="1.55" stroke-linecap="butt" />
<line x1="551.28" y1="451.81" x2="557.54" y2="465.86" stroke="#808080" stroke-width="1.55" stroke-linecap="butt" />
<line x1="572.83" y1="467.47" x2="581.87" y2="455.03" stroke="#808080" stroke-width="1.55" stroke-linecap="butt" />
<line x1="575.62" y1="440.98" x2="560.32" y2="439.37" stroke="#808080" stroke-width="1.55" stroke-linecap="butt" />
<text transform="translate(339.33 462.7) scale(1.0455 1.0078)" font-size="15.0" font-weight="normal" font-style="normal" fill="#808080" stroke="#808080" stroke-width="0.4" stroke-linejoin="round">N</text>
<text transform="translate(469.99 420.25) scale(1.0455 1.0078)" font-size="15.0" font-weight="normal" font-style="normal" fill="#808080" stroke="#808080" stroke-width="0.4" stroke-linejoin="round">N</text>
<line x1="404.72" y1="418.97" x2="395.65" y2="410.8" stroke="#808080" stroke-width="1.7" stroke-linecap="butt" />
<line x1="404.72" y1="418.97" x2="407.13" y2="407.62" stroke="#808080" stroke-width="1.7" stroke-linecap="butt" />
<text transform="translate(354.77 410.87) scale(0.9967 1.0078)" font-size="15.0" font-weight="bold" font-style="normal" fill="#808080">Octyl</text>
<text transform="translate(402.87 404.77) scale(0.9967 1.0078)" font-size="15.0" font-weight="bold" font-style="normal" fill="#808080">Octyl</text>
<line x1="546.69" y1="418.97" x2="544.15" y2="407.03" stroke="#808080" stroke-width="1.7" stroke-linecap="butt" />
<line x1="546.69" y1="418.97" x2="555.31" y2="411.21" stroke="#808080" stroke-width="1.7" stroke-linecap="butt" />
<text transform="translate(507.63 404.07) scale(0.9967 1.0078)" font-size="15.0" font-weight="bold" font-style="normal" fill="#808080">Octyl</text>
<text transform="translate(555.84 410.57) scale(0.9967 1.0078)" font-size="15.0" font-weight="bold" font-style="normal" fill="#808080">Octyl</text>
<line x1="586.47" y1="455.51" x2="601.88" y2="457.13" stroke="#808080" stroke-width="1.7" stroke-linecap="butt" />
<path d="M592.07 439.11 Q602.07 456.71 592.07 474.31" fill="none" stroke="#808080" stroke-width="1.7"/>
<text transform="translate(595.17 479.95) scale(1.0313 1.0313)" font-size="11" font-weight="normal" font-style="normal" fill="#808080" stroke="#808080" stroke-width="0.2" stroke-linejoin="round">m</text>
<text transform="translate(603.17 462.57) scale(1.0171 1.0171)" font-size="15.0" font-weight="normal" font-style="italic" fill="#808080" stroke="#808080" stroke-width="0.5" stroke-linejoin="round">co</text>
<line x1="318.72" y1="457.6" x2="339.05" y2="457.6" stroke="#808080" stroke-width="1.7" stroke-linecap="butt" />
<path d="M333.35 428 Q322.75 445.8 333.35 463.5" fill="none" stroke="#808080" stroke-width="1.7"/>
<line x1="656.18" y1="456.95" x2="669.89" y2="455.51" stroke="#000" stroke-width="2.0" stroke-linecap="butt" />
<line x1="646.88" y1="464.62" x2="641.87" y2="475.87" stroke="#000" stroke-width="2.0" stroke-linecap="butt" />
<path d="M641.87 475.87 L653.62 492.05 L645.49 510.32 L625.6 512.41 L613.84 496.23 L621.97 477.96 Z" fill="#c6f8f8" stroke="none" stroke-width="2.0" stroke-linejoin="miter" stroke-miterlimit="4"/>
<path d="M641.87 475.87 L653.62 492.05 L645.49 510.32 L625.6 512.41 L613.84 496.23 L621.97 477.96 Z" fill="none" stroke="#000" stroke-width="2.0" stroke-linejoin="miter" stroke-miterlimit="4"/>
<line x1="639.99" y1="480.09" x2="649.03" y2="492.53" stroke="#000" stroke-width="1.8" stroke-linecap="butt" />
<line x1="642.77" y1="506.59" x2="627.47" y2="508.19" stroke="#000" stroke-width="1.8" stroke-linecap="butt" />
<line x1="618.43" y1="495.75" x2="624.69" y2="481.7" stroke="#000" stroke-width="1.8" stroke-linecap="butt" />
<path d="M709.67 418.97 L728.69 425.15 L746.01 415.15 L763.33 425.15 L763.33 445.15 L746.01 455.15 L728.69 445.15 L709.67 451.33 L701.54 469.6 L681.65 471.69 L669.89 455.51 L678.03 437.24 L697.92 435.15 Z" fill="#fdc5c6" stroke="none" stroke-width="2.0" stroke-linejoin="miter" stroke-miterlimit="4"/>
<path d="M709.67 418.97 L728.69 425.15 L746.01 415.15 L763.33 425.15 L763.33 445.15 L746.01 455.15 L728.69 445.15 L709.67 451.33 L701.54 469.6 L681.65 471.69 L669.89 455.51 L678.03 437.24 L697.92 435.15 Z" fill="none" stroke="#000" stroke-width="2.0" stroke-linejoin="miter" stroke-miterlimit="4"/>
<line x1="697.92" y1="435.15" x2="709.67" y2="451.33" stroke="#000" stroke-width="2.0" stroke-linecap="butt" />
<line x1="728.69" y1="425.15" x2="728.69" y2="445.15" stroke="#000" stroke-width="2.0" stroke-linecap="butt" />
<line x1="696.04" y1="439.37" x2="705.08" y2="451.81" stroke="#000" stroke-width="1.8" stroke-linecap="butt" />
<line x1="698.82" y1="465.86" x2="683.52" y2="467.47" stroke="#000" stroke-width="1.8" stroke-linecap="butt" />
<line x1="674.48" y1="455.03" x2="680.74" y2="440.98" stroke="#000" stroke-width="1.8" stroke-linecap="butt" />
<line x1="732.69" y1="442.84" x2="746.01" y2="450.53" stroke="#000" stroke-width="1.8" stroke-linecap="butt" />
<line x1="759.33" y1="442.84" x2="759.33" y2="427.46" stroke="#000" stroke-width="1.8" stroke-linecap="butt" />
<line x1="746.01" y1="419.77" x2="732.69" y2="427.46" stroke="#000" stroke-width="1.8" stroke-linecap="butt" />
<line x1="763.33" y1="425.15" x2="774.77" y2="418.55" stroke="#000" stroke-width="2.0" stroke-linecap="butt" />
<line x1="780.65" y1="407.15" x2="780.65" y2="395.15" stroke="#000" stroke-width="2.0" stroke-linecap="butt" />
<path d="M780.65 395.15 L763.33 385.15 L763.33 365.15 L780.65 355.15 L797.97 365.15 L797.97 385.15 Z" fill="#c6f8f8" stroke="none" stroke-width="2.0" stroke-linejoin="miter" stroke-miterlimit="4"/>
<path d="M780.65 395.15 L763.33 385.15 L763.33 365.15 L780.65 355.15 L797.97 365.15 L797.97 385.15 Z" fill="none" stroke="#000" stroke-width="2.0" stroke-linejoin="miter" stroke-miterlimit="4"/>
<line x1="780.65" y1="390.53" x2="767.33" y2="382.84" stroke="#000" stroke-width="1.8" stroke-linecap="butt" />
<line x1="767.33" y1="367.46" x2="780.65" y2="359.77" stroke="#000" stroke-width="1.8" stroke-linecap="butt" />
<line x1="793.97" y1="367.46" x2="793.97" y2="382.84" stroke="#000" stroke-width="1.8" stroke-linecap="butt" />
<line x1="786.54" y1="418.55" x2="797.97" y2="425.15" stroke="#000" stroke-width="2.0" stroke-linecap="butt" />
<path d="M851.64 418.97 L863.39 435.15 L883.28 437.24 L891.42 455.51 L879.66 471.69 L859.77 469.6 L851.64 451.33 L832.62 445.15 L815.29 455.15 L797.97 445.15 L797.97 425.15 L815.29 415.15 L832.62 425.15 Z" fill="#d8fb94" stroke="none" stroke-width="2.0" stroke-linejoin="miter" stroke-miterlimit="4"/>
<path d="M851.64 418.97 L863.39 435.15 L883.28 437.24 L891.42 455.51 L879.66 471.69 L859.77 469.6 L851.64 451.33 L832.62 445.15 L815.29 455.15 L797.97 445.15 L797.97 425.15 L815.29 415.15 L832.62 425.15 Z" fill="none" stroke="#000" stroke-width="2.0" stroke-linejoin="miter" stroke-miterlimit="4"/>
<line x1="832.62" y1="425.15" x2="832.62" y2="445.15" stroke="#000" stroke-width="2.0" stroke-linecap="butt" />
<line x1="863.39" y1="435.15" x2="851.64" y2="451.33" stroke="#000" stroke-width="2.0" stroke-linecap="butt" />
<line x1="828.62" y1="442.84" x2="815.29" y2="450.53" stroke="#000" stroke-width="1.8" stroke-linecap="butt" />
<line x1="801.97" y1="442.84" x2="801.97" y2="427.46" stroke="#000" stroke-width="1.8" stroke-linecap="butt" />
<line x1="815.29" y1="419.77" x2="828.62" y2="427.46" stroke="#000" stroke-width="1.8" stroke-linecap="butt" />
<line x1="856.23" y1="451.81" x2="862.49" y2="465.86" stroke="#000" stroke-width="1.8" stroke-linecap="butt" />
<line x1="877.78" y1="467.47" x2="886.82" y2="455.03" stroke="#000" stroke-width="1.8" stroke-linecap="butt" />
<line x1="880.57" y1="440.98" x2="865.27" y2="439.37" stroke="#000" stroke-width="1.8" stroke-linecap="butt" />
<text transform="translate(644.33 462.7) scale(1.0369 1.0078)" font-size="15.0" font-weight="normal" font-style="normal" fill="#000" stroke="#000" stroke-width="0.55" stroke-linejoin="round">N</text>
<text transform="translate(774.98 420.25) scale(1.0369 1.0078)" font-size="15.0" font-weight="normal" font-style="normal" fill="#000" stroke="#000" stroke-width="0.55" stroke-linejoin="round">N</text>
<line x1="709.67" y1="418.97" x2="700.6" y2="410.8" stroke="#000" stroke-width="2.0" stroke-linecap="butt" />
<line x1="709.67" y1="418.97" x2="712.08" y2="407.62" stroke="#000" stroke-width="2.0" stroke-linecap="butt" />
<text transform="translate(677.93 410.87) scale(0.9990 1.0078)" font-size="15.0" font-weight="bold" font-style="normal" fill="#000" stroke="#000" stroke-width="0.2" stroke-linejoin="round">Me</text>
<text transform="translate(707.63 404.77) scale(0.9990 1.0078)" font-size="15.0" font-weight="bold" font-style="normal" fill="#000" stroke="#000" stroke-width="0.2" stroke-linejoin="round">Me</text>
<line x1="851.64" y1="418.97" x2="849.1" y2="407.03" stroke="#000" stroke-width="2.0" stroke-linecap="butt" />
<line x1="851.64" y1="418.97" x2="860.26" y2="411.21" stroke="#000" stroke-width="2.0" stroke-linecap="butt" />
<text transform="translate(812.77 404.07) scale(0.9864 1.0078)" font-size="15.0" font-weight="bold" font-style="normal" fill="#000" stroke="#000" stroke-width="0.2" stroke-linejoin="round">Octyl</text>
<text transform="translate(860.97 410.57) scale(0.9864 1.0078)" font-size="15.0" font-weight="bold" font-style="normal" fill="#000" stroke="#000" stroke-width="0.2" stroke-linejoin="round">Octyl</text>
<line x1="891.42" y1="455.51" x2="906.83" y2="457.13" stroke="#000" stroke-width="2.0" stroke-linecap="butt" />
<path d="M897.02 439.11 Q907.02 456.71 897.02 474.31" fill="none" stroke="#000" stroke-width="2.0"/>
<text transform="translate(901.35 480.18) scale(1.0218 1.0218)" font-size="11" font-weight="bold" font-style="normal" fill="#000">p</text>
<text transform="translate(908.12 462.57) scale(1.0171 1.0171)" font-size="15.0" font-weight="normal" font-style="italic" fill="#808080" stroke="#808080" stroke-width="0.5" stroke-linejoin="round">co</text>
<line x1="621.27" y1="457.6" x2="644" y2="457.6" stroke="#000" stroke-width="2.0" stroke-linecap="butt" />
<path d="M638.3 428 Q627.7 445.8 638.3 463.5" fill="none" stroke="#000" stroke-width="2.0"/>
<line x1="960.78" y1="456.95" x2="974.49" y2="455.51" stroke="#808080" stroke-width="1.7" stroke-linecap="butt" />
<line x1="951.48" y1="464.62" x2="946.47" y2="475.87" stroke="#808080" stroke-width="1.7" stroke-linecap="butt" />
<path d="M946.47 475.87 L958.22 492.05 L950.09 510.32 L930.2 512.41 L918.44 496.23 L926.57 477.96 Z" fill="none" stroke="#808080" stroke-width="1.7" stroke-linejoin="miter" stroke-miterlimit="4"/>
<line x1="944.59" y1="480.09" x2="953.63" y2="492.53" stroke="#808080" stroke-width="1.55" stroke-linecap="butt" />
<line x1="947.37" y1="506.59" x2="932.07" y2="508.19" stroke="#808080" stroke-width="1.55" stroke-linecap="butt" />
<line x1="923.03" y1="495.75" x2="929.29" y2="481.7" stroke="#808080" stroke-width="1.55" stroke-linecap="butt" />
<path d="M1014.27 418.97 L1033.29 425.15 L1050.61 415.15 L1067.93 425.15 L1067.93 445.15 L1050.61 455.15 L1033.29 445.15 L1014.27 451.33 L1006.14 469.6 L986.25 471.69 L974.49 455.51 L982.63 437.24 L1002.52 435.15 Z" fill="none" stroke="#808080" stroke-width="1.7" stroke-linejoin="miter" stroke-miterlimit="4"/>
<line x1="1002.52" y1="435.15" x2="1014.27" y2="451.33" stroke="#808080" stroke-width="1.7" stroke-linecap="butt" />
<line x1="1033.29" y1="425.15" x2="1033.29" y2="445.15" stroke="#808080" stroke-width="1.7" stroke-linecap="butt" />
<line x1="1000.64" y1="439.37" x2="1009.68" y2="451.81" stroke="#808080" stroke-width="1.55" stroke-linecap="butt" />
<line x1="1003.42" y1="465.86" x2="988.12" y2="467.47" stroke="#808080" stroke-width="1.55" stroke-linecap="butt" />
<line x1="979.08" y1="455.03" x2="985.34" y2="440.98" stroke="#808080" stroke-width="1.55" stroke-linecap="butt" />
<line x1="1037.29" y1="442.84" x2="1050.61" y2="450.53" stroke="#808080" stroke-width="1.55" stroke-linecap="butt" />
<line x1="1063.93" y1="442.84" x2="1063.93" y2="427.46" stroke="#808080" stroke-width="1.55" stroke-linecap="butt" />
<line x1="1050.61" y1="419.77" x2="1037.29" y2="427.46" stroke="#808080" stroke-width="1.55" stroke-linecap="butt" />
<line x1="1067.93" y1="425.15" x2="1079.37" y2="418.55" stroke="#808080" stroke-width="1.7" stroke-linecap="butt" />
<line x1="1085.25" y1="407.15" x2="1085.25" y2="395.15" stroke="#808080" stroke-width="1.7" stroke-linecap="butt" />
<path d="M1085.25 395.15 L1067.93 385.15 L1067.93 365.15 L1085.25 355.15 L1102.57 365.15 L1102.57 385.15 Z" fill="none" stroke="#808080" stroke-width="1.7" stroke-linejoin="miter" stroke-miterlimit="4"/>
<line x1="1085.25" y1="390.53" x2="1071.93" y2="382.84" stroke="#808080" stroke-width="1.55" stroke-linecap="butt" />
<line x1="1071.93" y1="367.46" x2="1085.25" y2="359.77" stroke="#808080" stroke-width="1.55" stroke-linecap="butt" />
<line x1="1098.57" y1="367.46" x2="1098.57" y2="382.84" stroke="#808080" stroke-width="1.55" stroke-linecap="butt" />
<line x1="1091.14" y1="418.55" x2="1102.57" y2="425.15" stroke="#808080" stroke-width="1.7" stroke-linecap="butt" />
<path d="M1156.24 418.97 L1167.99 435.15 L1187.88 437.24 L1196.02 455.51 L1184.26 471.69 L1164.37 469.6 L1156.24 451.33 L1137.22 445.15 L1119.89 455.15 L1102.57 445.15 L1102.57 425.15 L1119.89 415.15 L1137.22 425.15 Z" fill="none" stroke="#808080" stroke-width="1.7" stroke-linejoin="miter" stroke-miterlimit="4"/>
<line x1="1137.22" y1="425.15" x2="1137.22" y2="445.15" stroke="#808080" stroke-width="1.7" stroke-linecap="butt" />
<line x1="1167.99" y1="435.15" x2="1156.24" y2="451.33" stroke="#808080" stroke-width="1.7" stroke-linecap="butt" />
<line x1="1133.22" y1="442.84" x2="1119.89" y2="450.53" stroke="#808080" stroke-width="1.55" stroke-linecap="butt" />
<line x1="1106.57" y1="442.84" x2="1106.57" y2="427.46" stroke="#808080" stroke-width="1.55" stroke-linecap="butt" />
<line x1="1119.89" y1="419.77" x2="1133.22" y2="427.46" stroke="#808080" stroke-width="1.55" stroke-linecap="butt" />
<line x1="1160.83" y1="451.81" x2="1167.09" y2="465.86" stroke="#808080" stroke-width="1.55" stroke-linecap="butt" />
<line x1="1182.38" y1="467.47" x2="1191.42" y2="455.03" stroke="#808080" stroke-width="1.55" stroke-linecap="butt" />
<line x1="1185.17" y1="440.98" x2="1169.87" y2="439.37" stroke="#808080" stroke-width="1.55" stroke-linecap="butt" />
<text transform="translate(948.88 462.7) scale(1.0455 1.0078)" font-size="15.0" font-weight="normal" font-style="normal" fill="#808080" stroke="#808080" stroke-width="0.4" stroke-linejoin="round">N</text>
<text transform="translate(1079.54 420.25) scale(1.0455 1.0078)" font-size="15.0" font-weight="normal" font-style="normal" fill="#808080" stroke="#808080" stroke-width="0.4" stroke-linejoin="round">N</text>
<line x1="1014.27" y1="418.97" x2="1005.2" y2="410.8" stroke="#808080" stroke-width="1.7" stroke-linecap="butt" />
<line x1="1014.27" y1="418.97" x2="1016.68" y2="407.62" stroke="#808080" stroke-width="1.7" stroke-linecap="butt" />
<text transform="translate(964.32 410.87) scale(0.9967 1.0078)" font-size="15.0" font-weight="bold" font-style="normal" fill="#808080">Octyl</text>
<text transform="translate(1012.42 404.77) scale(0.9967 1.0078)" font-size="15.0" font-weight="bold" font-style="normal" fill="#808080">Octyl</text>
<line x1="1156.24" y1="418.97" x2="1153.7" y2="407.03" stroke="#808080" stroke-width="1.7" stroke-linecap="butt" />
<line x1="1156.24" y1="418.97" x2="1164.86" y2="411.21" stroke="#808080" stroke-width="1.7" stroke-linecap="butt" />
<text transform="translate(1135.23 404.07) scale(1.0090 1.0078)" font-size="15.0" font-weight="bold" font-style="normal" fill="#808080">Me</text>
<text transform="translate(1165.13 410.57) scale(1.0090 1.0078)" font-size="15.0" font-weight="bold" font-style="normal" fill="#808080">Me</text>
<line x1="1196.02" y1="455.51" x2="1216.9" y2="457.7" stroke="#808080" stroke-width="1.7" stroke-linecap="butt" />
<path d="M1201.62 439.11 Q1211.62 456.71 1201.62 474.31" fill="none" stroke="#808080" stroke-width="1.7"/>
<text transform="translate(1206.67 479.32) scale(0.9307 0.9307)" font-size="11" font-weight="normal" font-style="normal" fill="#808080" stroke="#808080" stroke-width="0.2" stroke-linejoin="round">o</text>
<line x1="926.22" y1="457.6" x2="948.6" y2="457.6" stroke="#808080" stroke-width="1.7" stroke-linecap="butt" />
<path d="M942.9 428 Q932.3 445.8 942.9 463.5" fill="none" stroke="#808080" stroke-width="1.7"/>
</g></svg></div>
</body></html>
